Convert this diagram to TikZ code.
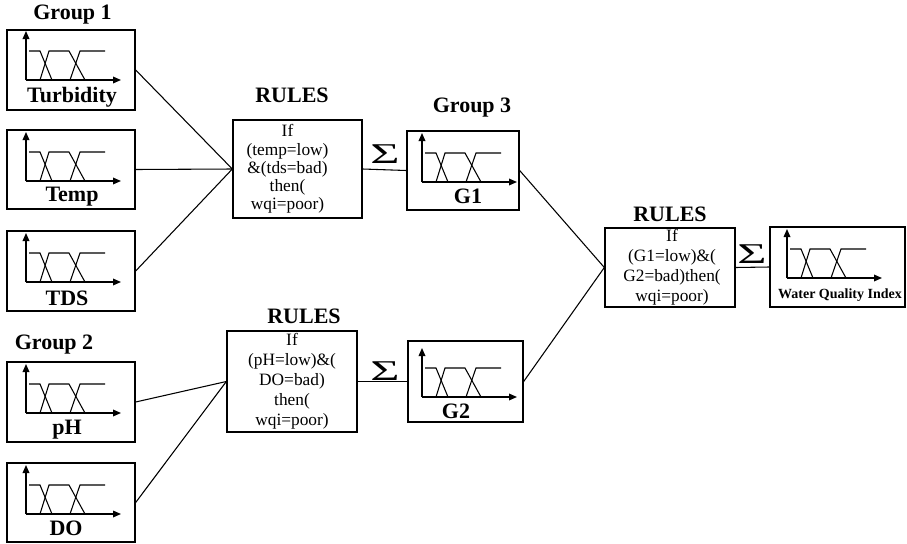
\documentclass[tikz,border=0pt]{standalone}
\usepackage{fontspec}
\setmainfont{Liberation Serif}
\usetikzlibrary{arrows.meta,fit}
\begin{document}
\begin{tikzpicture}[x=0.75pt,y=-0.75pt,
  box/.style={draw, line width=1pt, inner sep=0pt},
  wire/.style={line width=0.8pt},
  axis/.style={line width=0.9pt, -{Triangle[length=6pt,width=5pt]}},
  lbl/.style={font=\fontsize{16.5}{18}\selectfont\bfseries, inner sep=0pt},
  rule/.style={align=center, inner sep=0pt, font=\fontsize{13}{15}\selectfont},
  sig/.style={inner sep=0pt, font=\fontsize{21.5}{22}\selectfont},
  mf/.pic={
    \draw[axis] (0,0) -- (0,-49);
    \draw[axis] (0,0) -- (95,0);
    \draw[line width=0.8pt] (3,-29) -- (14,-29) -- (26,0);
    \draw[line width=0.8pt] (14,0) -- (23,-29) -- (43,-29) -- (59,0);
    \draw[line width=0.8pt] (44,0) -- (54,-29) -- (79,-29);
  }]
\useasboundingbox (0,0) rectangle (907,543);

% group headings
\node[lbl] (g1) at (72.5,15) {Group 1};
\node[lbl] (g2) at (54,345) {Group 2};
\node[lbl] (g3) at (472,108) {Group 3};
\node[lbl] (h1) at (292,95) {RULES};
\node[lbl] (h2) at (304,316) {RULES};
\node[lbl] (h3) at (670,214) {RULES};

% input variables
\node[box, fit={(7,30) (135,110)}] (turb) {};
\pic at (26,80) {mf};
\node[lbl] (turbl) at (72,97) {Turbidity};

\node[box, fit={(7,130) (135,209)}] (temp) {};
\pic at (26,181) {mf};
\node[lbl] (templ) at (72,197) {Temp};

\node[box, fit={(7,231) (135,311)}] (tds) {};
\pic at (26,282) {mf};
\node[lbl] (tdsl) at (67,298) {TDS};

\node[box, fit={(7,362) (135,442)}] (ph) {};
\pic at (26,413) {mf};
\node[lbl] (phl) at (67,430) {pH};

\node[box, fit={(7,463) (135,542)}] (do) {};
\pic at (26,514) {mf};
\node[lbl] (dol) at (66,528) {DO};

% rule blocks
\node[box, fit={(233,120) (362,218)}] (r1) {};
\node[rule, font=\fontsize{13}{13.6}\selectfont] (r1t) at ([xshift=-7.5pt]r1.center) {If\\(temp=low)\\\&(tds=bad)\\then(\\wqi=poor)};

\node[box, fit={(227,331) (357,432)}] (r2) {};
\node[rule] (r2t) at (r2.center) {If\\(pH=low)\&(\\DO=bad)\\then(\\wqi=poor)};

\node[box, fit={(605,228) (735,307)}] (r3) {};
\node[rule] (r3t) at ([xshift=1.5pt]r3.center) {If\\(G1=low)\&(\\G2=bad)then(\\wqi=poor)};

% aggregated outputs
\node[box, fit={(407,131) (519,210)}] (o1) {};
\pic at (422,182) {mf};
\node[lbl] (o1l) at (468,196) {G1};

\node[box, fit={(408,341) (523,422)}] (o2) {};
\pic at (422,397) {mf};
\node[lbl] (o2l) at (456,411) {G2};

\node[box, fit={(770,227) (905,307)}] (wqi) {};
\pic at (787,278) {mf};
\node[lbl, font=\fontsize{10.5}{12}\selectfont\bfseries] (wqil) at (840,295) {Water Quality Index};

% summation marks
\node[sig] (s1) at (385,154) {\scalebox{1.75}[1]{Σ}};
\node[sig] (s2) at (385,371) {\scalebox{1.75}[1]{Σ}};
\node[sig] (s3) at (752,254) {\scalebox{1.75}[1]{Σ}};

% connectors
\draw[wire] (turb.east) -- (r1.west);
\draw[wire] (temp.east) -- (r1.west);
\draw[wire] (tds.east) -- (r1.west);
\draw[wire] (ph.east) -- (r2.west);
\draw[wire] (do.east) -- (r2.west);
\draw[wire] (r1.east) -- (o1.west);
\draw[wire] (r2.east) -- (o2.west);
\draw[wire] (o1.east) -- (r3.west);
\draw[wire] (o2.east) -- (r3.west);
\draw[wire] (r3.east) -- (wqi.west);
\end{tikzpicture}
\end{document}
